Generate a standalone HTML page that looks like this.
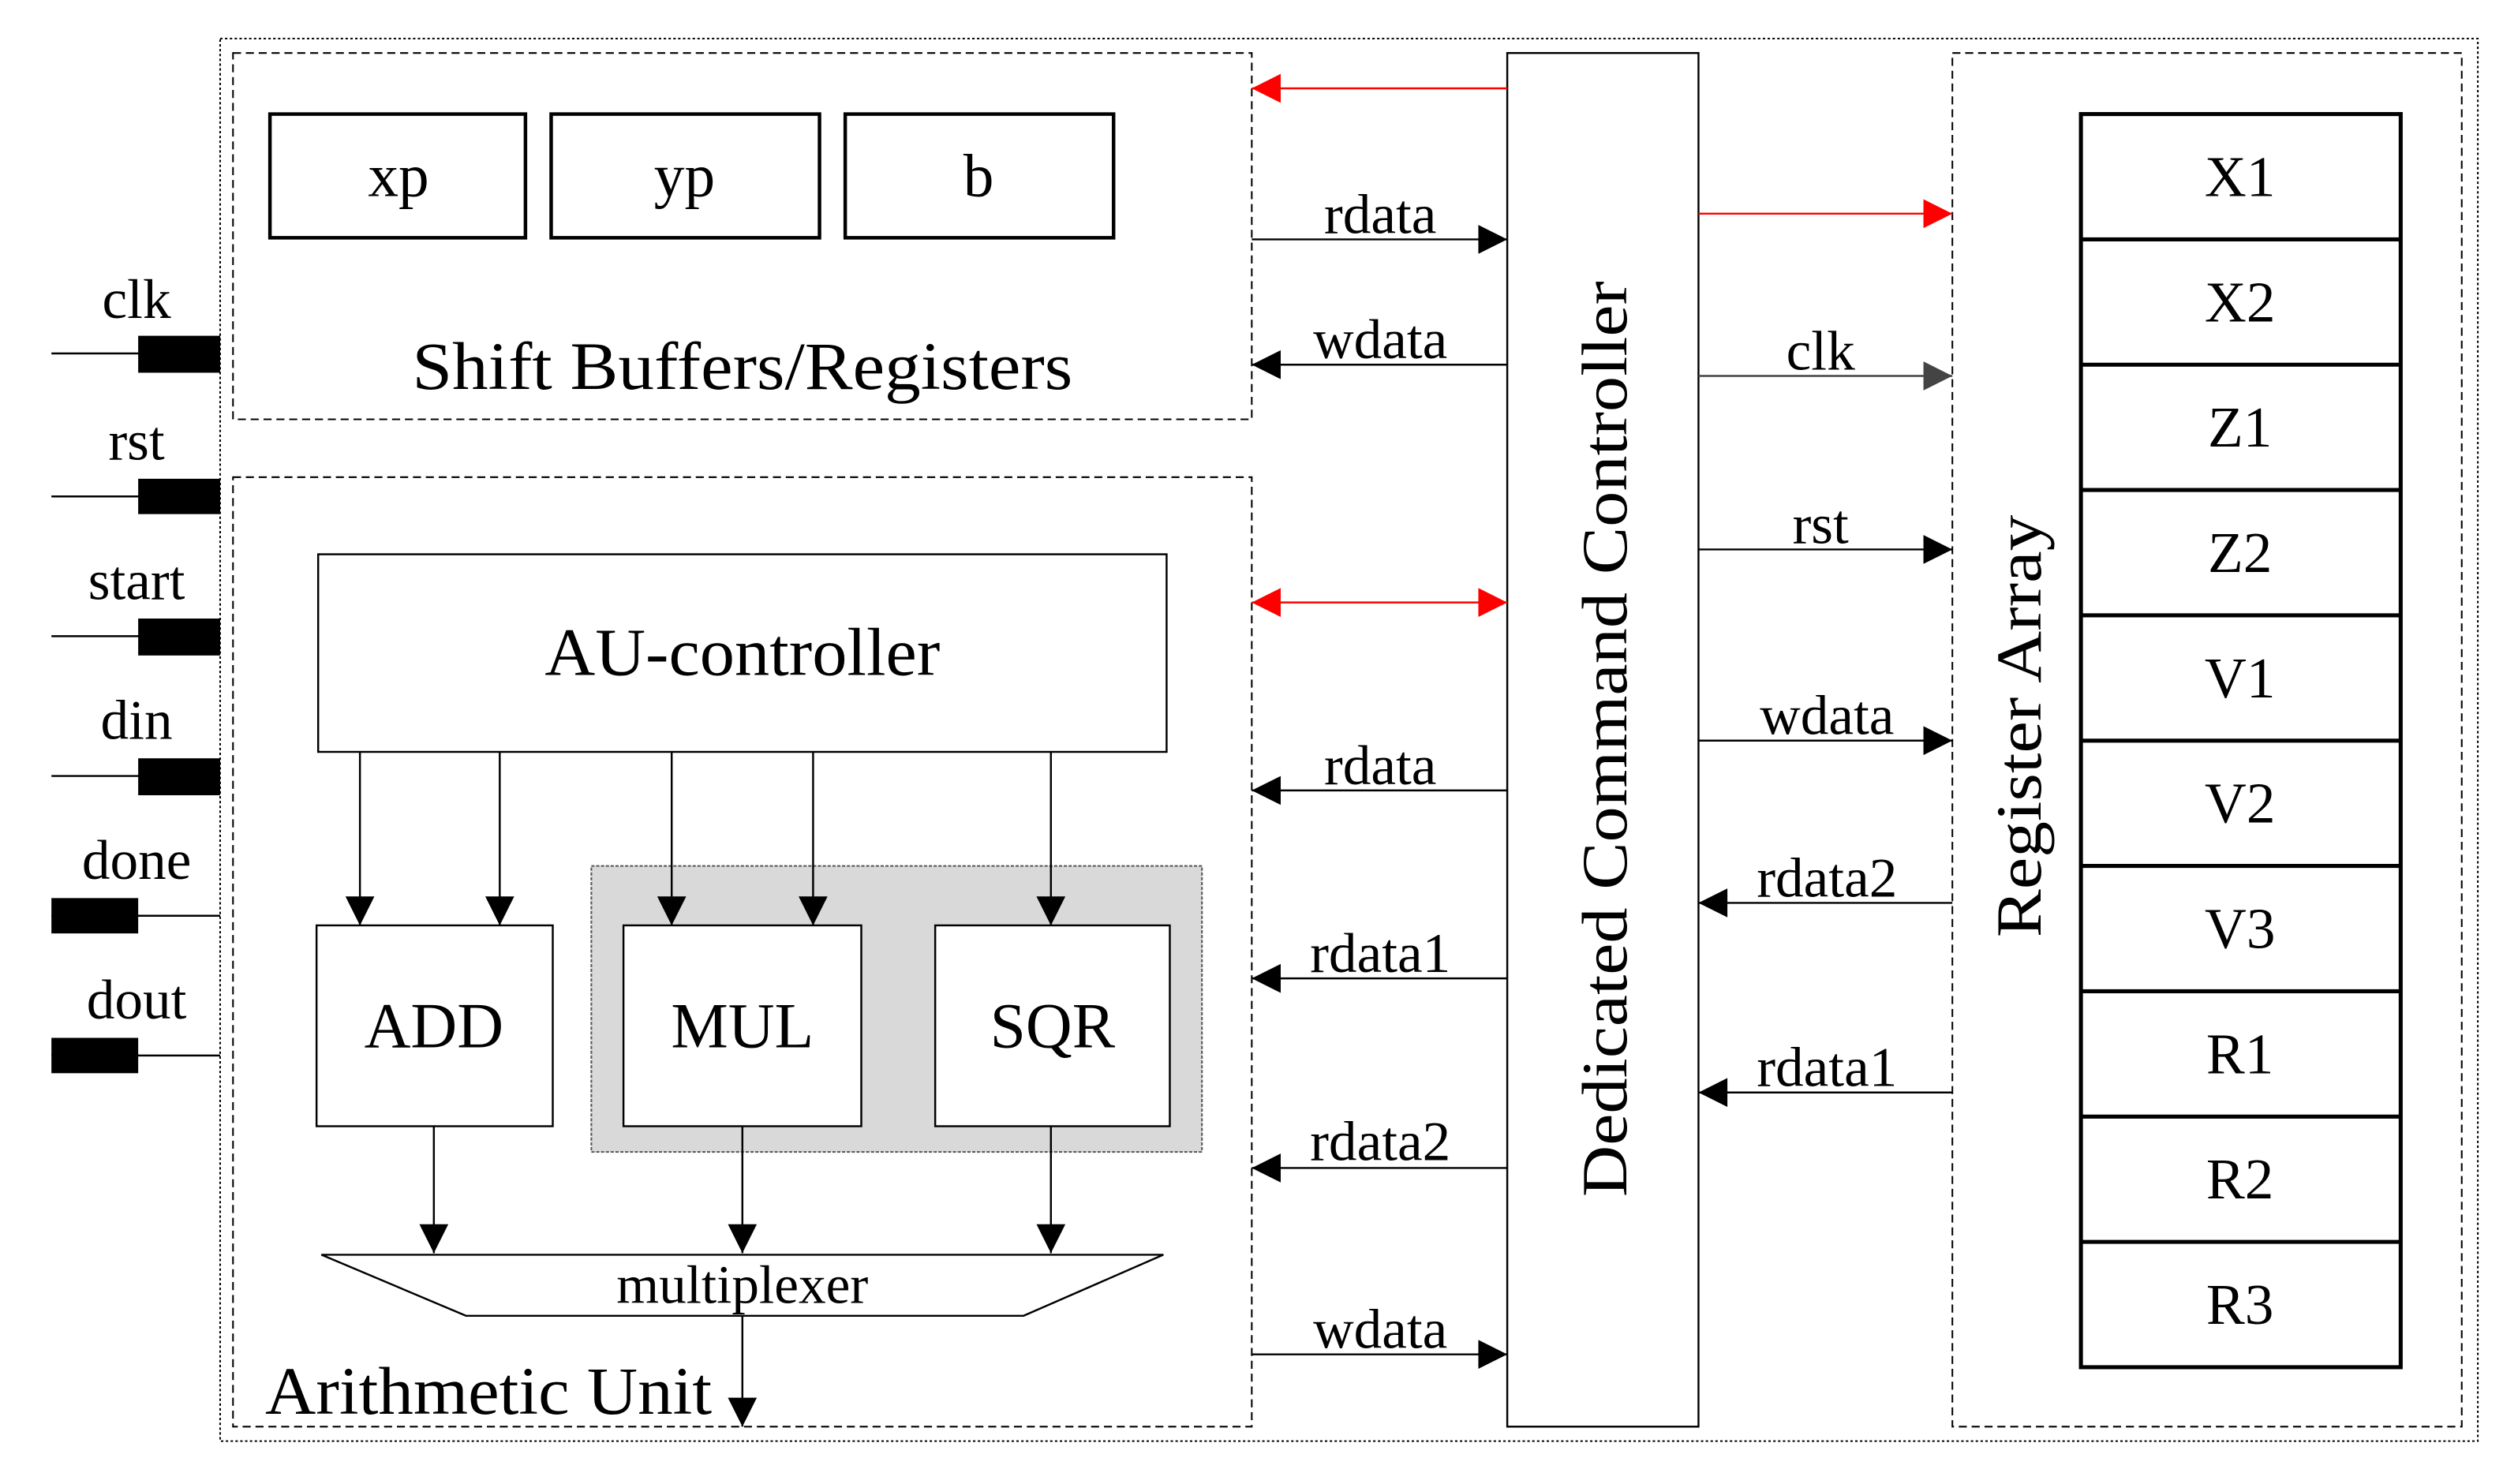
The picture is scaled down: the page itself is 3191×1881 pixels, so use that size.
<!DOCTYPE html>
<html><head><meta charset="utf-8"><style>html,body{margin:0;padding:0;background:#fff}svg{display:block}</style></head><body>
<svg width="3191" height="1881" viewBox="0 0 1567 923.7" preserveAspectRatio="none" xmlns="http://www.w3.org/2000/svg" font-family="Liberation Serif, serif">
<defs>
<marker id="ab" viewBox="0 0 10 10" refX="10" refY="5" markerWidth="24" markerHeight="18" markerUnits="userSpaceOnUse" orient="auto-start-reverse"><path d="M0,0L10,5L0,10z" fill="#000"/></marker>
<marker id="ar" viewBox="0 0 10 10" refX="10" refY="5" markerWidth="24" markerHeight="18" markerUnits="userSpaceOnUse" orient="auto-start-reverse"><path d="M0,0L10,5L0,10z" fill="#f00"/></marker>
<marker id="ag" viewBox="0 0 10 10" refX="10" refY="5" markerWidth="24" markerHeight="18" markerUnits="userSpaceOnUse" orient="auto-start-reverse"><path d="M0,0L10,5L0,10z" fill="#444"/></marker>
</defs>
<rect x="137" y="24" width="1405" height="873" fill="none" stroke="#000" stroke-width="1" stroke-dasharray="1.5,1.5"/>
<rect x="145" y="33" width="634" height="228" fill="none" stroke="#000" stroke-dasharray="5,3"/>
<rect x="145" y="297" width="634" height="591" fill="none" stroke="#000" stroke-dasharray="5,3"/>
<rect x="1215" y="33" width="317" height="855" fill="none" stroke="#000" stroke-dasharray="5,3"/>
<g fill="none" stroke="#000" stroke-width="2.2">
<rect x="168" y="71" width="159" height="77"/><rect x="343" y="71" width="167" height="77"/><rect x="526" y="71" width="167" height="77"/>
</g>
<g font-size="38" text-anchor="middle">
<text x="248" y="122">xp</text><text x="426" y="122">yp</text><text x="609" y="122">b</text>
</g>
<text x="462" y="242" font-size="42" text-anchor="middle" textLength="411" lengthAdjust="spacingAndGlyphs">Shift Buffers/Registers</text>
<rect x="198" y="345" width="528" height="123" fill="none" stroke="#000" stroke-width="1.2"/>
<text x="462" y="420" font-size="42" text-anchor="middle" textLength="246" lengthAdjust="spacingAndGlyphs">AU-controller</text>
<rect x="368" y="539" width="380" height="178" fill="#d9d9d9" stroke="#555" stroke-width="1" stroke-dasharray="2,1"/>
<g fill="#fff" stroke="#000" stroke-width="1.2">
<rect x="197" y="576" width="147" height="125"/><rect x="388" y="576" width="148" height="125"/><rect x="582" y="576" width="146" height="125"/>
</g>
<g font-size="40" text-anchor="middle">
<text x="270" y="652">ADD</text><text x="462" y="652">MUL</text><text x="655" y="652">SQR</text>
</g>
<g stroke="#000" stroke-width="1.2" marker-end="url(#ab)">
<line x1="224" y1="468" x2="224" y2="576"/><line x1="311" y1="468" x2="311" y2="576"/>
<line x1="418" y1="468" x2="418" y2="576"/><line x1="506" y1="468" x2="506" y2="576"/>
<line x1="654" y1="468" x2="654" y2="576"/>
<line x1="270" y1="701" x2="270" y2="780"/><line x1="462" y1="701" x2="462" y2="780"/><line x1="654" y1="701" x2="654" y2="780"/>
<line x1="462" y1="819" x2="462" y2="888"/>
</g>
<polygon points="200,781 724,781 637,819 290,819" fill="none" stroke="#000" stroke-width="1.2"/>
<text x="462" y="811" font-size="34" text-anchor="middle">multiplexer</text>
<text x="165" y="880" font-size="42" textLength="278" lengthAdjust="spacingAndGlyphs">Arithmetic Unit</text>
<g stroke="#000" stroke-width="1.2">
<line x1="32" y1="220" x2="137" y2="220"/><line x1="32" y1="309" x2="137" y2="309"/><line x1="32" y1="396" x2="137" y2="396"/><line x1="32" y1="483" x2="137" y2="483"/>
<line x1="32" y1="570" x2="137" y2="570"/><line x1="32" y1="657" x2="137" y2="657"/>
</g>
<g fill="#000">
<rect x="86" y="209" width="51" height="23"/><rect x="86" y="298" width="51" height="22"/><rect x="86" y="385" width="51" height="23"/><rect x="86" y="472" width="51" height="23"/>
<rect x="32" y="559" width="54" height="22"/><rect x="32" y="646" width="54" height="22"/>
</g>
<g font-size="35" text-anchor="middle">
<text x="85" y="198">clk</text><text x="85" y="286">rst</text><text x="85" y="373">start</text><text x="85" y="460">din</text><text x="85" y="547">done</text><text x="85" y="634">dout</text>
</g>
<rect x="938" y="33" width="119" height="855" fill="none" stroke="#000" stroke-width="1.2"/>
<text transform="translate(1012,460) rotate(-90)" font-size="40" text-anchor="middle" textLength="570" lengthAdjust="spacingAndGlyphs">Dedicated Command Controller</text>
<text transform="translate(1270,452) rotate(-90)" font-size="40" text-anchor="middle" textLength="263" lengthAdjust="spacingAndGlyphs">Register Array</text>
<g stroke-width="1.2">
<line x1="938" y1="55" x2="779" y2="55" stroke="#f00" marker-end="url(#ar)"/>
<line x1="779" y1="149" x2="938" y2="149" stroke="#000" marker-end="url(#ab)"/>
<line x1="938" y1="227" x2="779" y2="227" stroke="#000" marker-end="url(#ab)"/>
<line x1="779" y1="375" x2="938" y2="375" stroke="#f00" marker-start="url(#ar)" marker-end="url(#ar)"/>
<line x1="938" y1="492" x2="779" y2="492" stroke="#000" marker-end="url(#ab)"/>
<line x1="938" y1="609" x2="779" y2="609" stroke="#000" marker-end="url(#ab)"/>
<line x1="938" y1="727" x2="779" y2="727" stroke="#000" marker-end="url(#ab)"/>
<line x1="779" y1="843" x2="938" y2="843" stroke="#000" marker-end="url(#ab)"/>
<line x1="1057" y1="133" x2="1215" y2="133" stroke="#f00" marker-end="url(#ar)"/>
<line x1="1057" y1="234" x2="1215" y2="234" stroke="#444" marker-end="url(#ag)"/>
<line x1="1057" y1="342" x2="1215" y2="342" stroke="#000" marker-end="url(#ab)"/>
<line x1="1057" y1="461" x2="1215" y2="461" stroke="#000" marker-end="url(#ab)"/>
<line x1="1215" y1="562" x2="1057" y2="562" stroke="#000" marker-end="url(#ab)"/>
<line x1="1215" y1="680" x2="1057" y2="680" stroke="#000" marker-end="url(#ab)"/>
</g>
<g font-size="35" text-anchor="middle">
<text x="859" y="145">rdata</text><text x="859" y="223">wdata</text><text x="859" y="488">rdata</text><text x="859" y="605">rdata1</text><text x="859" y="722">rdata2</text><text x="859" y="839">wdata</text>
<text x="1133" y="230">clk</text><text x="1133" y="338">rst</text><text x="1137" y="457">wdata</text><text x="1137" y="558">rdata2</text><text x="1137" y="676">rdata1</text>
</g>
<g fill="none" stroke="#000" stroke-width="2.5">
<rect x="1295" y="71" width="199" height="780"/>
<path d="M1295,149H1494M1295,227H1494M1295,305H1494M1295,383H1494M1295,461H1494M1295,539H1494M1295,617H1494M1295,695H1494M1295,773H1494"/>
</g>
<g font-size="36" text-anchor="middle">
<text x="1394" y="122">X1</text><text x="1394" y="200">X2</text><text x="1394" y="278">Z1</text><text x="1394" y="356">Z2</text><text x="1394" y="434">V1</text><text x="1394" y="512">V2</text><text x="1394" y="590">V3</text><text x="1394" y="668">R1</text><text x="1394" y="746">R2</text><text x="1394" y="824">R3</text>
</g>
</svg>
</body></html>
